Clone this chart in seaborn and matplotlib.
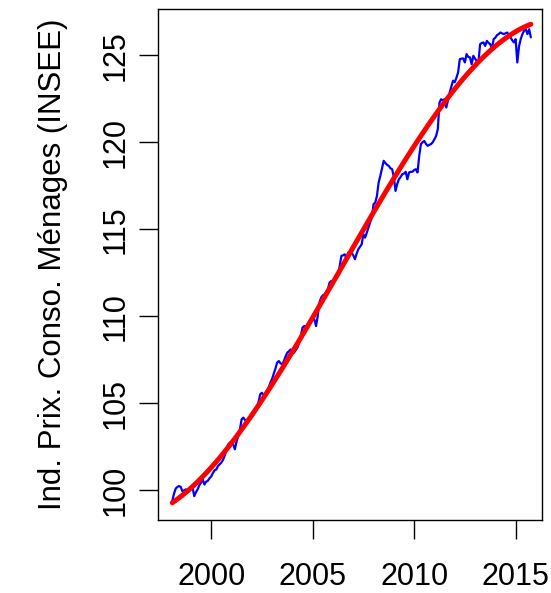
import numpy as np
import pandas as pd
import matplotlib
matplotlib.use("Agg")
import matplotlib.pyplot as plt
import seaborn as sns

# Monthly index values, Feb 1998 .. Oct 2015
start_year = 1998
start_month_index = 1  # Feb (0 = Jan)
ipc_values = [
    # 1998 (Feb-Dec)
    99.40, 99.80, 100.10, 100.20, 100.25, 100.20, 99.95, 100.00, 100.06, 100.00, 99.96,
    # 1999
    100.10, 100.16, 99.67, 99.90, 100.06, 100.30, 100.44, 100.63, 100.34, 100.50, 100.55, 100.70,
    # 2000
    100.80, 101.00, 101.15, 101.20, 101.40, 101.50, 101.60, 101.75, 102.00, 102.30, 102.64, 102.74,
    # 2001
    102.70, 102.64, 102.36, 102.80, 103.12, 103.51, 104.08, 104.18, 104.05, 103.98, 104.00, 104.08,
    # 2002
    104.20, 104.35, 104.50, 104.66, 105.10, 105.52, 105.61, 105.45, 105.42, 105.61, 105.90, 106.19,
    # 2003
    106.40, 106.70, 107.00, 107.34, 107.43, 107.30, 107.24, 107.43, 107.70, 107.91, 108.00, 108.10,
    # 2004
    107.95, 107.91, 108.05, 108.20, 108.50, 108.87, 109.35, 109.44, 109.40, 109.35, 109.55, 109.73,
    # 2005
    109.80, 109.83, 109.44, 110.02, 110.79, 111.07, 111.20, 111.26, 111.40, 111.55, 111.94, 112.03,
    # 2006
    111.84, 112.13, 112.20, 112.32, 112.89, 113.47, 113.50, 113.56, 113.28, 113.66, 113.60, 113.66,
    # 2007
    113.50, 113.28, 113.60, 113.85, 114.00, 114.14, 114.71, 114.52, 114.80, 115.10, 115.40, 115.67,
    # 2008
    116.44, 116.53, 116.91, 117.68, 118.06, 118.50, 118.93, 118.80, 118.70, 118.64, 118.50, 118.45,
    # 2009
    118.00, 117.20, 117.60, 117.87, 118.00, 118.16, 118.20, 118.30, 117.87, 118.26, 118.30, 118.30,
    # 2010
    118.40, 118.45, 118.26, 119.21, 119.89, 120.00, 120.07, 119.90, 119.79, 119.85, 119.89, 120.00,
    # 2011
    120.17, 120.36, 120.75, 122.28, 122.47, 122.40, 122.47, 121.99, 122.40, 122.86, 123.20, 123.53,
    # 2012
    123.44, 123.70, 124.01, 124.77, 124.80, 124.81, 124.58, 125.06, 124.90, 124.87, 124.48, 124.96,
    # 2013
    124.80, 124.67, 124.58, 125.63, 125.70, 125.73, 125.53, 125.82, 125.70, 125.63, 125.34, 125.92,
    # 2014
    126.00, 126.15, 126.21, 126.30, 126.25, 126.21, 126.25, 126.30, 126.15, 126.02, 125.85, 125.73,
    # 2015 (Jan-Oct)
    125.92, 124.58, 125.50, 125.92, 126.20, 126.40, 126.49, 126.21, 126.49, 126.02,
]
x_ticks = [2000, 2005, 2010, 2015]
y_ticks = [100, 105, 110, 115, 120, 125]
y_label = "Ind. Prix. Conso. Ménages (INSEE)"

months = start_month_index + np.arange(len(ipc_values))
df = pd.DataFrame({"annee": start_year + months / 12.0, "ipc": ipc_values})

sns.set_theme(style="white")
plt.rcParams["font.family"] = ["Liberation Sans", "DejaVu Sans"]
plt.rcParams["text.color"] = "black"
plt.rcParams["axes.labelcolor"] = "black"
plt.rcParams["xtick.color"] = "black"
plt.rcParams["ytick.color"] = "black"

fig = plt.figure(figsize=(5.51, 5.93), dpi=100)
ax = fig.add_axes([158 / 551, 1 - 520 / 593, (542 - 158) / 551, (520 - 9) / 593])

sns.lineplot(data=df, x="annee", y="ipc", color="blue", lw=1.6, ax=ax)
sns.regplot(data=df, x="annee", y="ipc", order=3, scatter=False, ci=None,
            color="red", line_kws={"lw": 3.6}, ax=ax)

ax.set_xlim(1997.38, 2016.3)
ax.set_ylim(98.3, 127.65)
ax.set_xticks(x_ticks)
ax.set_yticks(y_ticks)
ax.set_yticklabels([str(v) for v in y_ticks], rotation=90, va="center")
ax.set_xlabel("")
ax.set_ylabel(y_label, fontsize=22.5, labelpad=24, color="black")
ax.tick_params(axis="both", which="both", direction="out", length=13.5, width=1.0,
               color="black", labelcolor="black", labelsize=22, left=True, bottom=True)
ax.tick_params(axis="x", pad=17)
ax.tick_params(axis="y", pad=6)
for s in ax.spines.values():
    s.set_visible(True)
    s.set_color("black")
    s.set_linewidth(1.0)
ax.grid(False)

fig.savefig("out.png", dpi=100, facecolor="white")
